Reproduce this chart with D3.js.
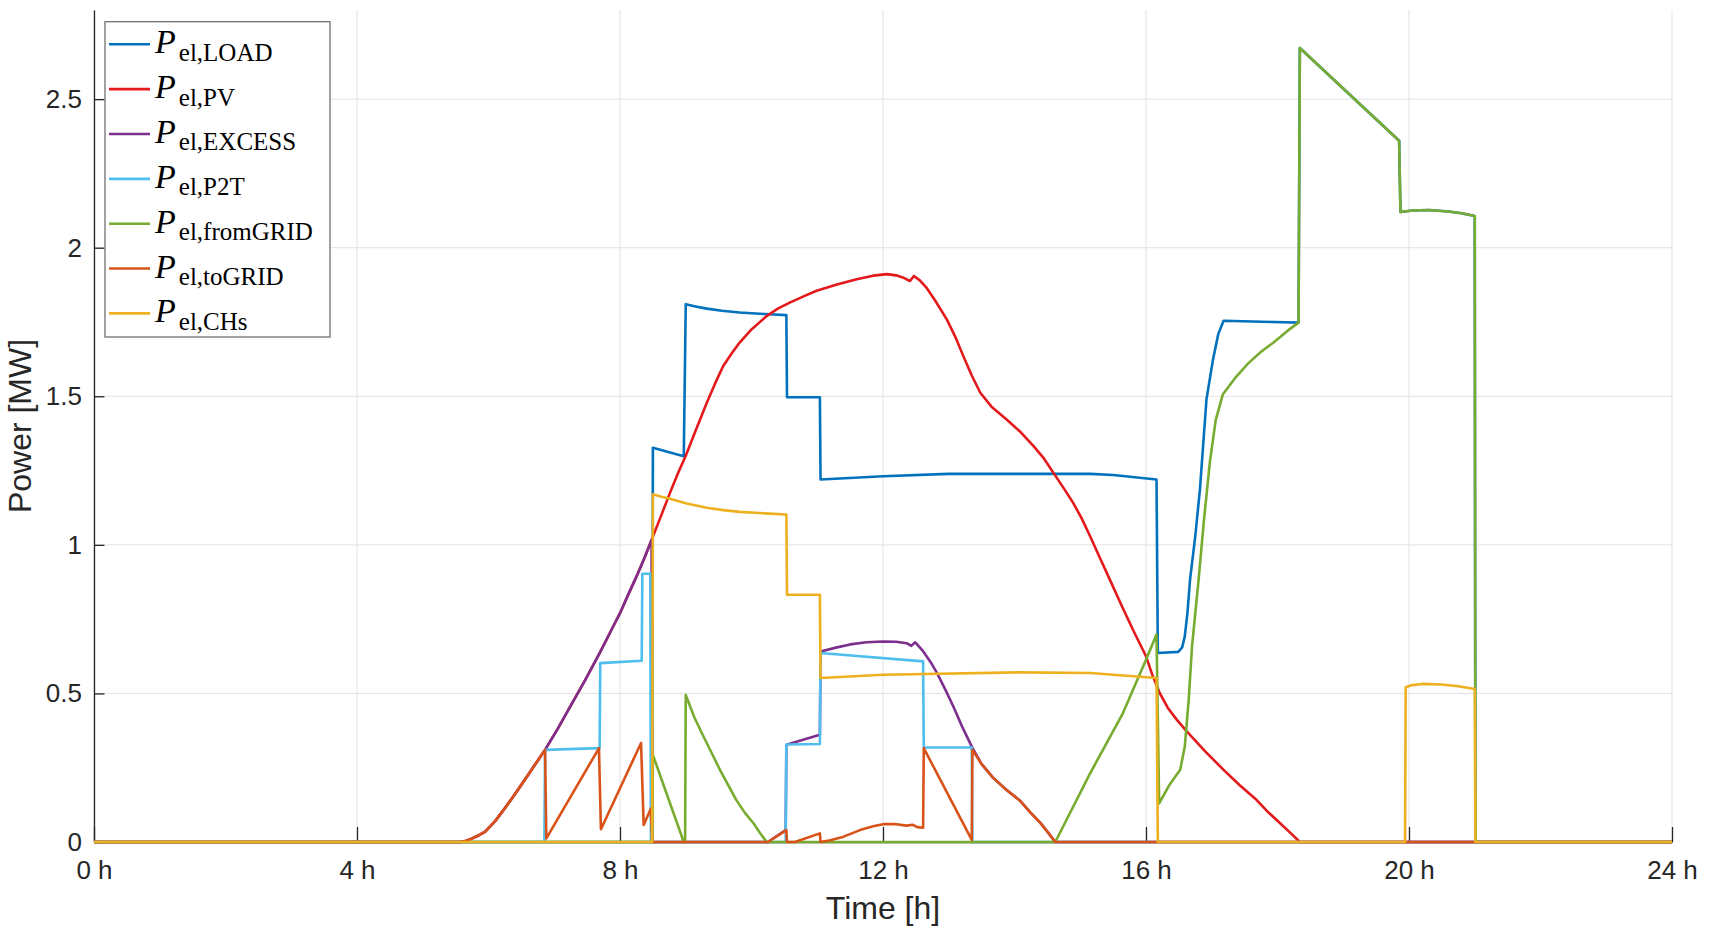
<!DOCTYPE html>
<html>
<head>
<meta charset="utf-8">
<script src="https://cdn.jsdelivr.net/npm/d3@7"></script>
<style>
    body { margin: 0; background: #fff; }
    svg { display: block; font-family: "Liberation Sans", Arial, sans-serif; }
</style>
</head>
<body>
<svg id="chart" width="1710" height="942"></svg>
<script>
//图例文字（P 的下标）
const seriesNames = ['el,LOAD', 'el,PV', 'el,EXCESS', 'el,P2T', 'el,fromGRID', 'el,toGRID', 'el,CHs'];
const seriesColors = ['#0072BD', '#E3191C', '#7E2F8E', '#4DBEEE', '#77AC30', '#D95319', '#EDB120'];

const xTicks = [0, 4, 8, 12, 16, 20, 24];
const yTicks = [0, 0.5, 1, 1.5, 2, 2.5];

//[小时, MW]
const pLoad = [[0, 0], [8.49, 0], [8.5, 1.327], [8.97, 1.298], [9.0, 1.81], [9.15, 1.802], [9.32, 1.795], [9.55, 1.788],
    [9.82, 1.782], [10.2, 1.777], [10.53, 1.773], [10.54, 1.497], [11.04, 1.497], [11.05, 1.22], [12, 1.231],
    [13, 1.239], [15.15, 1.239], [15.5, 1.235], [16.16, 1.22], [16.18, 0.636], [16.49, 0.64], [16.55, 0.655],
    [16.59, 0.692], [16.63, 0.77], [16.67, 0.883], [16.75, 1.03], [16.82, 1.186], [16.92, 1.49], [17.02, 1.625],
    [17.1, 1.71], [17.18, 1.754], [17.94, 1.75], [18.32, 1.748], [18.34, 2.672], [19.85, 2.36], [19.87, 2.12],
    [20.05, 2.125], [20.3, 2.127], [20.6, 2.122], [20.8, 2.116], [21.0, 2.107], [21.01, 0], [24, 0]];

const pPv = [[0, 0], [5.57, 0], [5.65, 0.003], [5.72, 0.009], [5.83, 0.02], [5.95, 0.035], [6.1, 0.07], [6.23, 0.108],
    [6.35, 0.145], [6.48, 0.186], [6.66, 0.245], [6.86, 0.31], [7.05, 0.38], [7.24, 0.455], [7.47, 0.545],
    [7.70, 0.64], [7.85, 0.705], [8.0, 0.77], [8.12, 0.83], [8.25, 0.893], [8.37, 0.955], [8.48, 1.016],
    [8.62, 1.095], [8.76, 1.175], [8.88, 1.24], [9.0, 1.30], [9.16, 1.39], [9.32, 1.478], [9.45, 1.545],
    [9.57, 1.602], [9.7, 1.645], [9.82, 1.681], [10.0, 1.725], [10.23, 1.77], [10.4, 1.795], [10.59, 1.816],
    [10.8, 1.837], [10.99, 1.855], [11.3, 1.876], [11.6, 1.894], [11.85, 1.906], [12.06, 1.911], [12.2, 1.907],
    [12.3, 1.9], [12.41, 1.888], [12.47, 1.905], [12.56, 1.89], [12.66, 1.866], [12.8, 1.82], [12.97, 1.759],
    [13.1, 1.7], [13.22, 1.636], [13.35, 1.57], [13.48, 1.512], [13.65, 1.465], [13.88, 1.422], [14.1, 1.378],
    [14.29, 1.332], [14.45, 1.29], [14.59, 1.243], [14.75, 1.19], [14.89, 1.142], [15.02, 1.09], [15.15, 1.029],
    [15.3, 0.956], [15.45, 0.883], [15.62, 0.8], [15.8, 0.715], [16.0, 0.625], [16.1, 0.56], [16.21, 0.501],
    [16.33, 0.452], [16.47, 0.411], [16.62, 0.372], [16.9, 0.305], [17.18, 0.243], [17.43, 0.19], [17.68, 0.142],
    [17.86, 0.1], [18.04, 0.063], [18.2, 0.03], [18.34, 0], [24, 0]];

const pExcess = [[0, 0], [5.57, 0], [5.65, 0.003], [5.72, 0.009], [5.83, 0.02], [5.95, 0.035], [6.1, 0.07], [6.23, 0.108],
    [6.35, 0.145], [6.48, 0.186], [6.66, 0.245], [6.86, 0.31], [7.05, 0.38], [7.24, 0.455], [7.47, 0.545],
    [7.70, 0.64], [7.85, 0.705], [8.0, 0.77], [8.12, 0.83], [8.25, 0.893], [8.37, 0.955], [8.48, 1.016], [8.49, 0],
    [10.25, 0], [10.52, 0.04], [10.53, 0.327], [11.04, 0.361], [11.05, 0.641], [11.3, 0.655], [11.5, 0.665],
    [11.75, 0.672], [12.0, 0.675], [12.2, 0.674], [12.36, 0.669], [12.43, 0.66], [12.49, 0.672], [12.61, 0.642],
    [12.72, 0.607], [12.82, 0.569], [12.95, 0.512], [13.07, 0.456], [13.2, 0.39], [13.35, 0.321], [13.5, 0.262],
    [13.68, 0.215], [13.88, 0.175], [14.08, 0.14], [14.24, 0.1], [14.39, 0.065], [14.5, 0.035], [14.62, 0], [24, 0]];

const pP2t = [[0, 0], [6.85, 0], [6.86, 0.31], [7.69, 0.316], [7.70, 0.602], [8.33, 0.61], [8.34, 0.903], [8.46, 0.903],
    [8.47, 0], [10.52, 0], [10.53, 0.328], [11.04, 0.33], [11.05, 0.636], [12.61, 0.608], [12.62, 0.318],
    [13.35, 0.318], [13.36, 0], [24, 0]];

const pFromGrid = [[0, 0], [8.49, 0], [8.5, 0.293], [8.97, 0], [8.99, 0], [9.0, 0.495], [9.13, 0.42], [9.27, 0.355],
    [9.4, 0.297], [9.52, 0.243], [9.65, 0.19], [9.77, 0.141], [9.9, 0.098], [10.03, 0.063], [10.13, 0.03], [10.23, 0],
    [14.62, 0], [15.15, 0.231], [15.65, 0.434], [16.0, 0.613], [16.16, 0.698], [16.2, 0.13], [16.35, 0.19],
    [16.52, 0.243], [16.59, 0.321], [16.65, 0.48], [16.7, 0.658], [16.8, 0.883], [16.88, 1.08], [16.97, 1.276],
    [17.06, 1.42], [17.17, 1.507], [17.35, 1.56], [17.55, 1.61], [17.75, 1.65], [17.94, 1.681], [18.15, 1.72],
    [18.32, 1.748], [18.34, 2.672], [19.85, 2.36], [19.87, 2.12], [20.05, 2.125], [20.3, 2.127], [20.6, 2.122],
    [20.8, 2.116], [21.0, 2.107], [21.01, 0], [24, 0]];

const pToGrid = [[0, 0], [5.57, 0], [5.65, 0.003], [5.72, 0.009], [5.83, 0.02], [5.95, 0.035], [6.1, 0.07], [6.23, 0.108],
    [6.35, 0.145], [6.48, 0.186], [6.66, 0.245], [6.86, 0.31], [6.88, 0.012], [7.68, 0.316], [7.71, 0.043],
    [8.32, 0.333], [8.36, 0.057], [8.47, 0.113], [8.49, 0], [10.25, 0], [10.53, 0.04], [10.54, 0], [10.66, 0],
    [11.04, 0.029], [11.05, 0], [11.2, 0.006], [11.4, 0.018], [11.65, 0.04], [11.85, 0.053], [12.0, 0.06],
    [12.2, 0.06], [12.36, 0.055], [12.45, 0.058], [12.52, 0.05], [12.61, 0.048], [12.62, 0.316], [13.35, 0.007],
    [13.36, 0.31], [13.5, 0.262], [13.68, 0.215], [13.88, 0.175], [14.08, 0.14], [14.24, 0.1], [14.39, 0.065],
    [14.5, 0.035], [14.62, 0], [24, 0]];

const pChs = [[0, 0], [8.49, 0], [8.5, 1.17], [8.63, 1.162], [8.76, 1.155], [9.0, 1.14], [9.32, 1.125], [9.57, 1.117],
    [9.82, 1.111], [10.2, 1.106], [10.53, 1.102], [10.54, 0.832], [11.04, 0.832], [11.05, 0.552], [12, 0.563],
    [14.08, 0.571], [15.15, 0.569], [16.16, 0.552], [16.18, 0], [19.94, 0], [19.95, 0.521], [20.05, 0.528],
    [20.2, 0.532], [20.5, 0.53], [20.75, 0.524], [21.0, 0.515], [21.01, 0], [24, 0]];

//绘制顺序 = 图例顺序
const seriesData = [pLoad, pPv, pExcess, pP2t, pFromGrid, pToGrid, pChs];

const axisColor = '#262626';
const plotLeft = 94, plotRight = 1672, plotTop = 10, plotBottom = 842;

var svg = d3.select('#chart');
var x = d3.scaleLinear().domain([0, 24]).range([plotLeft, plotRight]);
var y = d3.scaleLinear().domain([0, 2.8]).range([plotBottom, plotTop]);

//网格
var grid = svg.append('g').attr('stroke', '#e2e2e2').attr('stroke-width', 1);
grid.selectAll('line.gx').data(xTicks).enter().append('line')
    .attr('x1', d => x(d)).attr('x2', d => x(d)).attr('y1', plotTop).attr('y2', plotBottom);
grid.selectAll('line.gy').data(yTicks).enter().append('line')
    .attr('x1', plotLeft).attr('x2', plotRight).attr('y1', d => y(d)).attr('y2', d => y(d));

//坐标轴
var xAxis = svg.append('g').attr('transform', `translate(0,${plotBottom})`)
    .call(d3.axisBottom(x).tickValues(xTicks).tickFormat(d => d + ' h').tickSize(-15).tickSizeOuter(0).tickPadding(18.5));
var yAxis = svg.append('g').attr('transform', `translate(${plotLeft},0)`)
    .call(d3.axisLeft(y).tickValues(yTicks).tickFormat(d3.format('')).tickSize(-10.5).tickSizeOuter(0).tickPadding(12));
[xAxis, yAxis].forEach(a => {
    a.select('.domain').attr('stroke', axisColor).attr('stroke-width', 1.3);
    a.selectAll('.tick line').attr('stroke', axisColor).attr('stroke-width', 1.3);
    a.selectAll('.tick text').attr('fill', axisColor).style('font-size', '26px')
        .style('font-family', '"Liberation Sans", Arial, sans-serif');
});

//曲线
var line = d3.line().x(d => x(d[0])).y(d => y(d[1]));
svg.append('g').selectAll('path').data(seriesData).enter().append('path')
    .attr('d', line)
    .attr('fill', 'none')
    .attr('stroke', (d, i) => seriesColors[i])
    .attr('stroke-width', 2.6)
    .attr('stroke-linejoin', 'round');

//轴标题
svg.append('text').attr('x', x(12)).attr('y', 919).attr('text-anchor', 'middle')
    .attr('fill', axisColor).style('font-size', '32px').text('Time [h]');
svg.append('text').attr('transform', `translate(31,${(plotTop + plotBottom) / 2}) rotate(-90)`).attr('text-anchor', 'middle')
    .attr('fill', axisColor).style('font-size', '32px').text('Power [MW]');

//图例
var legend = svg.append('g');
legend.append('rect').attr('x', 105).attr('y', 21.7).attr('width', 225).attr('height', 315.3)
    .attr('fill', '#fff').attr('stroke', '#707070').attr('stroke-width', 1.3);
var rows = legend.selectAll('g.row').data(seriesNames).enter().append('g')
    .attr('transform', (d, i) => `translate(0,${44.3 + i * 44.85})`);
rows.append('line').attr('x1', 109).attr('x2', 150).attr('y1', 0).attr('y2', 0)
    .attr('stroke', (d, i) => seriesColors[i]).attr('stroke-width', 2.6);
var label = rows.append('text').attr('x', 155).attr('y', 9).attr('fill', '#000')
    .style('font-family', '"Liberation Serif", "DejaVu Serif", serif');
label.append('tspan').style('font-style', 'italic').style('font-size', '34px').text('P');
label.append('tspan').attr('dx', 3).attr('dy', 7.4).style('font-size', '25px').text(d => d);
</script>
</body>
</html>
